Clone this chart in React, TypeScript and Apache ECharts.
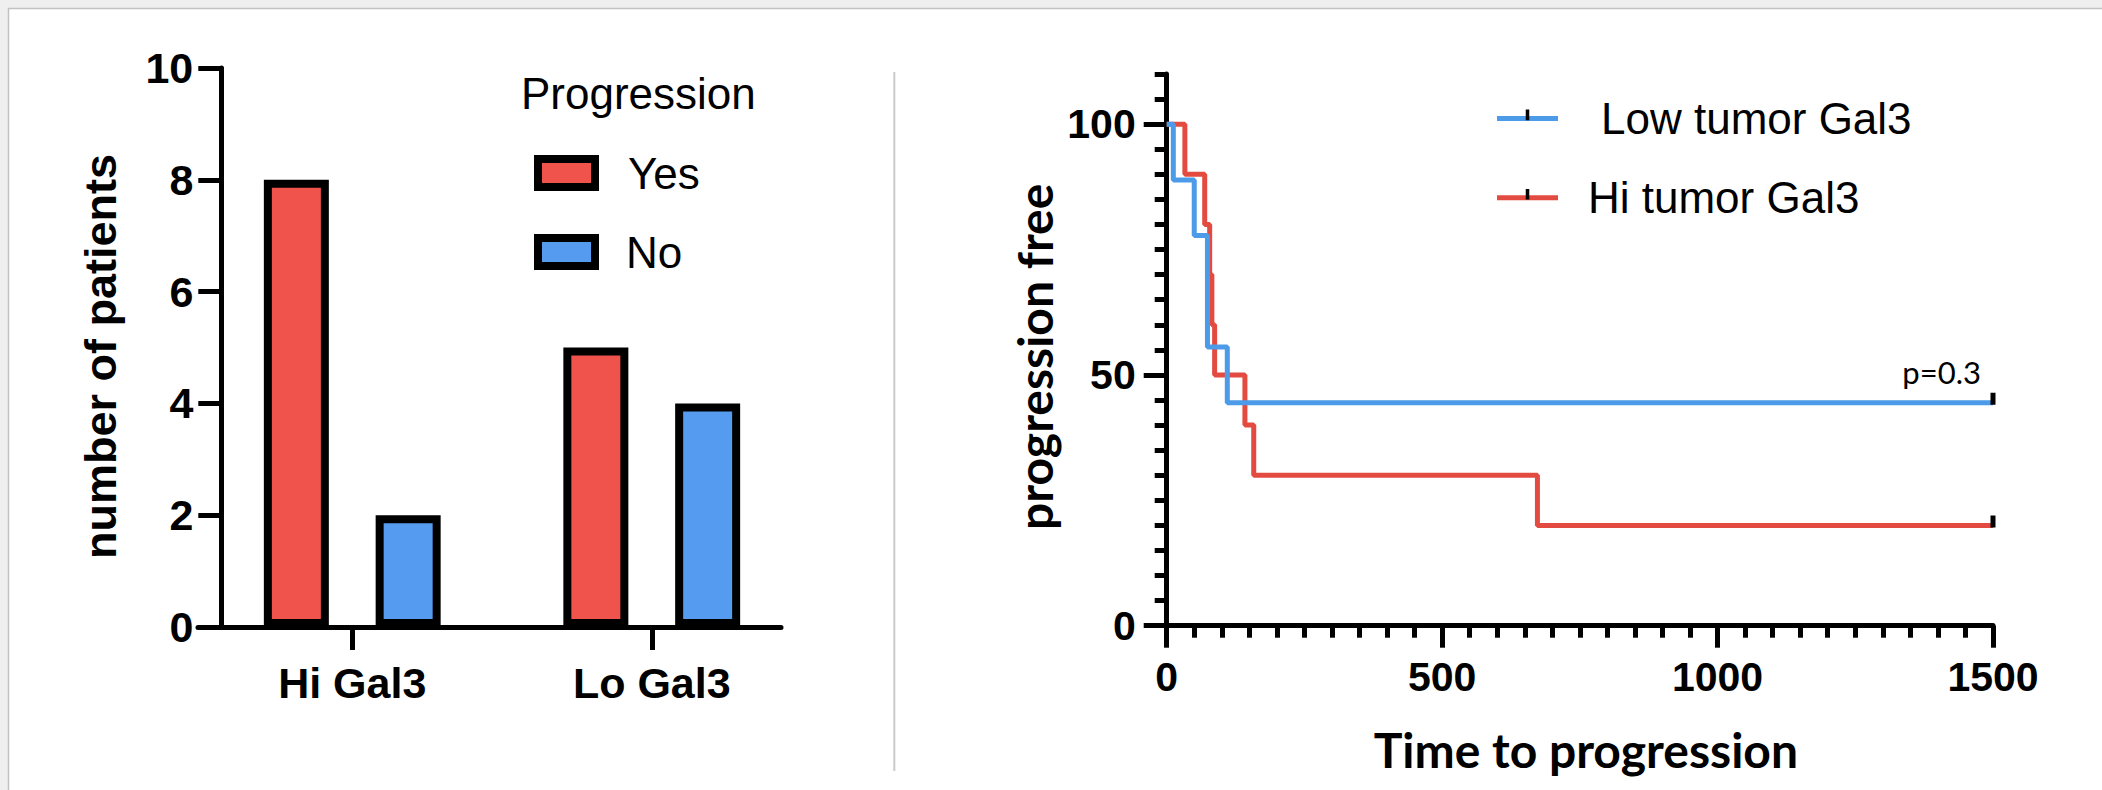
import React, { useEffect, useRef } from 'react';
import * as echarts from 'echarts';

// ---- Data ----
const barCategories = ['Hi Gal3', 'Lo Gal3'];
const progressionYes = [8, 5];
const progressionNo = [2, 4];
const barLegendTitle = 'Progression';

const lowTimes = [0, 12, 50, 74, 110, 1500];
const lowSurvival = [100, 88.89, 77.78, 55.56, 44.44, 44.44];
const lowCensored = [false, false, false, false, false, true];

const hiTimes = [0, 33, 69, 78, 82, 87, 142, 158, 673, 1500];
const hiSurvival = [100, 90, 80, 70, 60, 50, 40, 30, 20, 20];
const hiCensored = [false, false, false, false, false, false, false, false, false, true];

const kmMajorTicks = [0, 50, 100];
const pValueText = 'p=0.3';

// ---- Styles ----
const BAR_RED = '#EF534B';
const BAR_BLUE = '#559CF0';
const LINE_BLUE = '#4C9BE8';
const LINE_RED = '#E34B41';
const ARIAL = '"Liberation Sans", Arial, sans-serif';
const LATO = 'Lato, "Open Sans", sans-serif';
const CENSOR = 'path://M10,0h5v12h-5zM0,20h25';
const AXIS_W = 5;

const kmData = (times: number[], surv: number[], cens: boolean[]) =>
  times.map((t, i) => ({ value: [t, surv[i]], symbol: cens[i] ? CENSOR : 'none' }));

const black = '#000';

const option: any = {
  animation: false,
  backgroundColor: '#efefef',
  graphic: [
    {
      type: 'rect', z: -5, silent: true,
      shape: { x: 8.5, y: 8.5, width: 2200, height: 900 },
      style: { fill: '#fff', stroke: '#c2c2c2', lineWidth: 1.5 },
    },
    {
      type: 'line', silent: true,
      shape: { x1: 894.3, y1: 72, x2: 894.3, y2: 771 },
      style: { stroke: '#cacaca', lineWidth: 2 },
    },
    {
      type: 'text', x: 521, y: 93,
      style: { text: barLegendTitle, fontFamily: ARIAL, fontSize: 44, fill: black, verticalAlign: 'middle' },
    },
    {
      type: 'text', x: 1981, y: 372,
      style: { text: pValueText, fontFamily: LATO, fontSize: 31, fill: black, align: 'right', verticalAlign: 'middle' },
    },
  ],
  legend: [
    {
      data: [
        { name: 'Yes', textStyle: { padding: [0, 0, 0, 28] } },
        { name: 'No', textStyle: { padding: [0, 0, 0, 26] } },
      ],
      orient: 'vertical', left: 534, top: 151, padding: 0, itemGap: 35,
      itemWidth: 57, itemHeight: 28, icon: 'rect', selectedMode: false,
      itemStyle: { borderColor: black, borderWidth: 8 },
      textStyle: { fontFamily: ARIAL, fontSize: 44, lineHeight: 44, color: black },
    },
    {
      data: [
        { name: 'Low tumor Gal3', textStyle: { padding: [0, 0, 0, 38] } },
        { name: 'Hi tumor Gal3', textStyle: { padding: [0, 0, 0, 25] } },
      ],
      orient: 'vertical', left: 1494.5, top: 96.4, padding: 0, itemGap: 35.3,
      itemWidth: 61, itemHeight: 22, selectedMode: false,
      itemStyle: { color: black, borderWidth: 0 },
      lineStyle: { width: 5, cap: 'butt' },
      textStyle: { fontFamily: ARIAL, fontSize: 44, lineHeight: 44, color: black },
    },
  ],
  grid: [
    { left: 202.5, top: 68, width: 599, height: 559 },
    { left: 198, top: 68, width: 583, height: 559 },
    { left: 1166.7, top: 74, width: 826.3, height: 551.7 },
  ],
  xAxis: [
    {
      gridIndex: 0, type: 'category', data: barCategories, boundaryGap: true,
      axisLine: { show: false },
      axisTick: { show: true, alignWithLabel: true, length: 23, lineStyle: { color: black, width: AXIS_W } },
      axisLabel: { fontFamily: ARIAL, fontWeight: 'bold', fontSize: 43, color: black, margin: 34 },
      splitLine: { show: false },
    },
    {
      gridIndex: 1, type: 'value', min: 0, max: 1,
      axisLine: { show: true, onZero: false, lineStyle: { color: black, width: AXIS_W } },
      axisTick: { show: false }, axisLabel: { show: false }, splitLine: { show: false },
    },
    {
      gridIndex: 2, type: 'value', min: 0, max: 1500, interval: 500,
      axisLine: { show: true, onZero: false, lineStyle: { color: black, width: AXIS_W } },
      axisTick: { show: true, length: 22, lineStyle: { color: black, width: AXIS_W } },
      minorTick: { show: true, splitNumber: 10, length: 12, lineStyle: { color: black, width: AXIS_W } },
      axisLabel: {
        fontFamily: ARIAL, fontWeight: 'bold', fontSize: 41, color: black, margin: 31,
        formatter: (v: number) => String(v),
      },
      splitLine: { show: false }, minorSplitLine: { show: false },
      name: 'Time to progression', nameLocation: 'middle', nameGap: 100,
      nameTextStyle: { fontFamily: LATO, fontWeight: 'bold', fontSize: 48, lineHeight: 48, color: black, padding: [0, 0, 0, 12] },
    },
  ],
  yAxis: [
    {
      gridIndex: 0, type: 'value', min: 0, max: 10, interval: 2, offset: -18.8,
      axisLine: { show: true, onZero: false, lineStyle: { color: black, width: AXIS_W } },
      axisTick: { show: true, length: 23, lineStyle: { color: black, width: AXIS_W } },
      axisLabel: { fontFamily: ARIAL, fontWeight: 'bold', fontSize: 43, color: black, margin: 28 },
      splitLine: { show: false },
      name: 'number of patients', nameLocation: 'middle', nameGap: 98,
      nameTextStyle: { fontFamily: ARIAL, fontWeight: 'bold', fontSize: 45, lineHeight: 45, color: black, padding: [0, 18, 0, 0] },
    },
    { gridIndex: 1, type: 'value', show: false },
    {
      gridIndex: 2, type: 'value', min: 0, max: 110, interval: 5, position: 'left',
      axisLine: { show: true, onZero: false, lineStyle: { color: black, width: AXIS_W } },
      axisTick: { show: true, length: 12, lineStyle: { color: black, width: AXIS_W } },
      axisLabel: {
        fontFamily: ARIAL, fontWeight: 'bold', fontSize: 41, color: black, margin: 31,
        formatter: (v: number) => (kmMajorTicks.includes(v) ? String(v) : ''),
      },
      splitLine: { show: false },
      name: 'progression free', nameLocation: 'middle', nameGap: 108,
      nameTextStyle: { fontFamily: LATO, fontWeight: 'bold', fontSize: 48, lineHeight: 48, color: black, padding: [0, 14, 0, 0] },
    },
    {
      gridIndex: 2, type: 'value', min: 0, max: 110, position: 'left',
      axisLine: { show: false },
      axisTick: { show: true, length: 23, customValues: kmMajorTicks, lineStyle: { color: black, width: AXIS_W } },
      axisLabel: { show: false },
      splitLine: { show: false },
    },
  ],
  series: [
    {
      type: 'bar', name: 'Yes', xAxisIndex: 0, yAxisIndex: 0, data: progressionYes,
      barWidth: 65, barGap: '72%',
      itemStyle: { color: BAR_RED, borderColor: black, borderWidth: 8 },
    },
    {
      type: 'bar', name: 'No', xAxisIndex: 0, yAxisIndex: 0, data: progressionNo,
      barWidth: 65, barGap: '72%',
      itemStyle: { color: BAR_BLUE, borderColor: black, borderWidth: 8 },
    },
    {
      type: 'line', name: 'Hi tumor Gal3', xAxisIndex: 2, yAxisIndex: 2, step: 'end',
      data: kmData(hiTimes, hiSurvival, hiCensored),
      symbol: CENSOR, symbolSize: [25, 20], showSymbol: true, clip: false, z: 3,
      lineStyle: { color: LINE_RED, width: 5 }, itemStyle: { color: black },
    },
    {
      type: 'line', name: 'Low tumor Gal3', xAxisIndex: 2, yAxisIndex: 2, step: 'end',
      data: kmData(lowTimes, lowSurvival, lowCensored),
      symbol: CENSOR, symbolSize: [25, 20], showSymbol: true, clip: false, z: 4,
      lineStyle: { color: LINE_BLUE, width: 5 }, itemStyle: { color: black },
    },
  ],
};

export default function App() {
  const ref = useRef<HTMLDivElement>(null);
  useEffect(() => {
    if (!ref.current) return;
    const chart = echarts.init(ref.current, undefined, { renderer: 'svg', width: 2102, height: 790 });
    chart.setOption(option);
    return () => chart.dispose();
  }, []);
  return <div ref={ref} style={{ position: 'fixed', left: 0, top: 0, width: 2102, height: 790 }} />;
}
